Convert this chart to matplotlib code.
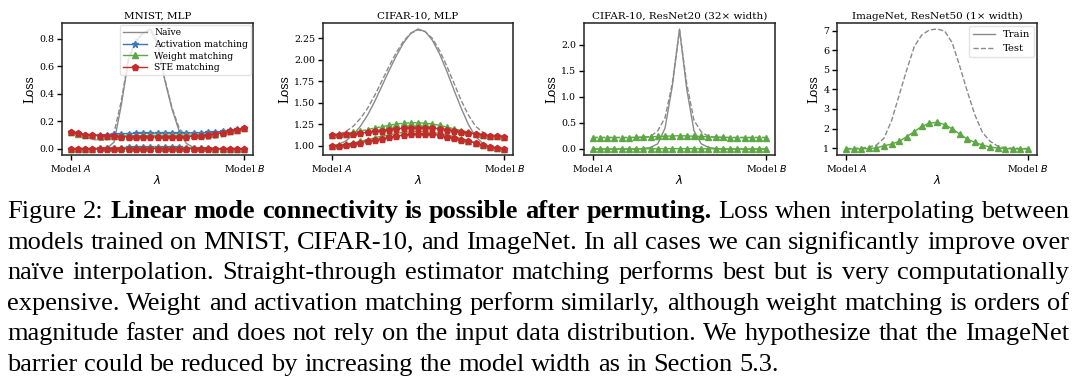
import numpy as np
import matplotlib
matplotlib.use('Agg')
import matplotlib.pyplot as plt

# interpolation coefficient lambda, 25 points between model A and model B
lam = np.linspace(0, 1, 25)

# MNIST, MLP
mnist_naive_train = [0.0, 0.0, 0.0, 0.0, 0.0, 0.005, 0.05, 0.32, 0.65, 0.78, 0.84, 0.87, 0.78,
                     0.50, 0.29, 0.13, 0.04, 0.01, 0.005, 0.0, 0.0, 0.0, 0.0, 0.0, 0.0]
mnist_naive_test = [0.12, 0.105, 0.085, 0.07, 0.062, 0.065, 0.12, 0.35, 0.66, 0.79, 0.84, 0.86, 0.76,
                    0.51, 0.30, 0.15, 0.09, 0.075, 0.07, 0.072, 0.08, 0.09, 0.105, 0.125, 0.15]
mnist_act_train = [0.0, 0.001, 0.002, 0.003, 0.004, 0.006, 0.008, 0.01, 0.012, 0.013, 0.014, 0.014, 0.014,
                   0.013, 0.012, 0.011, 0.01, 0.008, 0.006, 0.004, 0.003, 0.002, 0.001, 0.0, 0.0]
mnist_act_test = [0.12, 0.11, 0.105, 0.1, 0.1, 0.105, 0.108, 0.11, 0.112, 0.113, 0.114, 0.115, 0.115,
                  0.115, 0.115, 0.115, 0.116, 0.117, 0.118, 0.12, 0.124, 0.128, 0.135, 0.142, 0.15]
mnist_wm_train = [0.0, 0.001, 0.002, 0.003, 0.004, 0.005, 0.006, 0.007, 0.008, 0.009, 0.009, 0.01, 0.01,
                  0.01, 0.009, 0.009, 0.008, 0.007, 0.005, 0.004, 0.003, 0.002, 0.001, 0.0, 0.0]
mnist_wm_test = [0.12, 0.11, 0.104, 0.099, 0.097, 0.096, 0.095, 0.095, 0.096, 0.097, 0.098, 0.099, 0.1,
                 0.1, 0.1, 0.1, 0.101, 0.102, 0.104, 0.107, 0.112, 0.12, 0.13, 0.14, 0.15]
mnist_ste_train = [0.0, 0.0, 0.0, 0.001, 0.001, 0.001, 0.002, 0.002, 0.002, 0.003, 0.003, 0.003, 0.003,
                   0.003, 0.003, 0.002, 0.002, 0.002, 0.001, 0.001, 0.001, 0.0, 0.0, 0.0, 0.0]
mnist_ste_test = [0.12, 0.113, 0.105, 0.1, 0.097, 0.095, 0.093, 0.09, 0.088, 0.087, 0.087, 0.087, 0.087,
                  0.087, 0.087, 0.088, 0.09, 0.093, 0.097, 0.102, 0.11, 0.118, 0.128, 0.14, 0.152]

# CIFAR-10, MLP
cifar_naive_train = [1.00, 1.02, 1.06, 1.13, 1.23, 1.36, 1.52, 1.70, 1.88, 2.05, 2.20, 2.31, 2.36,
                     2.33, 2.23, 2.07, 1.87, 1.65, 1.44, 1.25, 1.11, 1.03, 0.99, 0.975, 0.97]
cifar_naive_test = [1.13, 1.14, 1.17, 1.23, 1.32, 1.44, 1.59, 1.76, 1.93, 2.09, 2.22, 2.31, 2.35,
                    2.33, 2.25, 2.11, 1.93, 1.73, 1.53, 1.36, 1.23, 1.16, 1.13, 1.12, 1.12]
cifar_wm_train = [1.0, 1.01, 1.02, 1.035, 1.055, 1.075, 1.095, 1.115, 1.13, 1.145, 1.16, 1.165, 1.17,
                  1.165, 1.16, 1.145, 1.13, 1.11, 1.085, 1.06, 1.035, 1.01, 0.99, 0.975, 0.965]
cifar_wm_test = [1.13, 1.135, 1.145, 1.16, 1.175, 1.19, 1.21, 1.225, 1.24, 1.255, 1.265, 1.27, 1.27,
                 1.265, 1.255, 1.24, 1.22, 1.2, 1.18, 1.16, 1.14, 1.13, 1.12, 1.115, 1.11]
cifar_ste_train = [1.0, 1.005, 1.015, 1.025, 1.04, 1.055, 1.07, 1.085, 1.1, 1.115, 1.125, 1.135, 1.14,
                   1.14, 1.135, 1.125, 1.11, 1.095, 1.075, 1.055, 1.035, 1.01, 0.99, 0.975, 0.965]
cifar_ste_test = [1.13, 1.13, 1.135, 1.14, 1.15, 1.16, 1.17, 1.18, 1.19, 1.2, 1.205, 1.21, 1.21,
                  1.21, 1.205, 1.2, 1.19, 1.18, 1.165, 1.15, 1.14, 1.13, 1.12, 1.115, 1.11]

# CIFAR-10, ResNet20 (32x width)
resnet20_naive_train = [0.0, 0.0, 0.0, 0.0, 0.0, 0.0, 0.0, 0.01, 0.03, 0.1, 0.4, 1.2, 2.3,
                        1.15, 0.35, 0.1, 0.03, 0.01, 0.0, 0.0, 0.0, 0.0, 0.0, 0.0, 0.0]
resnet20_naive_test = [0.22, 0.22, 0.22, 0.22, 0.22, 0.22, 0.22, 0.22, 0.24, 0.35, 0.6, 1.25, 2.28,
                       1.25, 0.55, 0.33, 0.24, 0.22, 0.22, 0.22, 0.22, 0.22, 0.22, 0.22, 0.22]
resnet20_wm_train = [0.0, 0.0, 0.0, 0.0, 0.0, 0.0, 0.001, 0.002, 0.003, 0.004, 0.005, 0.006, 0.006,
                     0.006, 0.005, 0.004, 0.003, 0.002, 0.001, 0.0, 0.0, 0.0, 0.0, 0.0, 0.0]
resnet20_wm_test = [0.22, 0.22, 0.22, 0.22, 0.22, 0.22, 0.225, 0.23, 0.235, 0.24, 0.245, 0.25, 0.255,
                    0.25, 0.245, 0.24, 0.235, 0.23, 0.225, 0.22, 0.22, 0.22, 0.22, 0.22, 0.22]

# ImageNet, ResNet50 (1x width)
imagenet_naive_test = [0.97, 0.98, 1.0, 1.05, 1.15, 1.5, 2.4, 3.7, 5.0, 6.2, 6.8, 7.05, 7.1,
                       7.0, 6.4, 5.2, 3.9, 2.7, 1.8, 1.35, 1.1, 1.02, 0.99, 0.98, 0.97]
imagenet_wm_test = [0.95, 0.95, 0.95, 0.98, 1.0, 1.12, 1.2, 1.34, 1.58, 1.84, 2.11, 2.27, 2.32,
                    2.2, 1.98, 1.72, 1.46, 1.29, 1.15, 1.05, 1.0, 0.97, 0.95, 0.95, 0.95]

titles = ['MNIST, MLP', 'CIFAR-10, MLP', 'CIFAR-10, ResNet20 (32\u00d7 width)',
          'ImageNet, ResNet50 (1\u00d7 width)']
xticklabels = ['Model $A$', 'Model $B$']

naive_color = '#8a8a8a'
act_color = '#3d74c0'
wm_color = '#5ca843'
ste_color = '#c42b2b'

plt.rcParams['font.family'] = 'DejaVu Serif'
plt.rcParams['mathtext.fontset'] = 'dejavusans'

fig = plt.figure(figsize=(10.8, 3.85), dpi=100)
W, H = 1080.0, 385.0
boxes = [(62, 253), (323, 513), (584, 775), (837, 1037)]
axes = []
for (x0, x1) in boxes:
    ax = fig.add_axes([x0 / W, 1 - 155 / H, (x1 - x0) / W, 132 / H])
    axes.append(ax)


def naive(ax, train, test):
    if train is not None:
        ax.plot(lam, train, color=naive_color, lw=1.0, ls='-')
    ax.plot(lam, test, color=naive_color, lw=1.0, ls='--')


def method(ax, train, test, color, marker, ms=4.5):
    ax.plot(lam, train, color=color, marker=marker, ls='-', lw=1.0, markersize=ms)
    ax.plot(lam, test, color=color, marker=marker, ls='--', lw=1.0, markersize=ms)


# panel 1
ax = axes[0]
naive(ax, mnist_naive_train, mnist_naive_test)
method(ax, mnist_act_train, mnist_act_test, act_color, '*', 4.5)
method(ax, mnist_wm_train, mnist_wm_test, wm_color, '^', 4.0)
method(ax, mnist_ste_train, mnist_ste_test, ste_color, 'p', 4.5)
ax.set_yticks([0.0, 0.2, 0.4, 0.6, 0.8])
h = [plt.Line2D([], [], color=naive_color, lw=1.0),
     plt.Line2D([], [], color=act_color, lw=1.0, marker='*', ms=4.5),
     plt.Line2D([], [], color=wm_color, lw=1.0, marker='^', ms=4.0),
     plt.Line2D([], [], color=ste_color, lw=1.0, marker='p', ms=4.5)]
ax.legend(h, ['Na\u00efve', 'Activation matching', 'Weight matching', 'STE matching'],
          loc='upper right', fontsize=6.6, frameon=True, framealpha=0.8, edgecolor='#dddddd',
          borderaxespad=0.25, handlelength=2.6, labelspacing=0.3, borderpad=0.3)

# panel 2
ax = axes[1]
naive(ax, cifar_naive_train, cifar_naive_test)
method(ax, cifar_wm_train, cifar_wm_test, wm_color, '^', 4.0)
method(ax, cifar_ste_train, cifar_ste_test, ste_color, 'p', 4.5)
ax.set_yticks([1.0, 1.25, 1.5, 1.75, 2.0, 2.25])
ax.set_yticklabels(['1.00', '1.25', '1.50', '1.75', '2.00', '2.25'])

# panel 3
ax = axes[2]
naive(ax, resnet20_naive_train, resnet20_naive_test)
method(ax, resnet20_wm_train, resnet20_wm_test, wm_color, '^', 4.3)
ax.set_yticks([0.0, 0.5, 1.0, 1.5, 2.0])

# panel 4
ax = axes[3]
naive(ax, None, imagenet_naive_test)
ax.plot(lam, imagenet_wm_test, color=wm_color, marker='^', ls='-', lw=1.0, markersize=4.8)
ax.set_yticks([1, 2, 3, 4, 5, 6, 7])
h = [plt.Line2D([], [], color=naive_color, lw=1.0),
     plt.Line2D([], [], color=naive_color, lw=1.0, ls='--')]
ax.legend(h, ['Train', 'Test'], loc='upper right', fontsize=7.2, frameon=True,
          edgecolor='#dddddd', borderaxespad=0.3, handlelength=2.2, borderpad=0.4)

for ax, title in zip(axes, titles):
    ax.set_title(title, fontsize=7.5, pad=3)
    ax.set_xticks([0, 1])
    ax.set_xticklabels(xticklabels)
    ax.set_xlabel('$\\lambda$', fontsize=8.5, labelpad=0)
    ax.set_ylabel('Loss', fontsize=8.8, labelpad=2)
    ax.set_xlim(-0.05, 1.05)
    ax.tick_params(labelsize=6.8, length=3.5, width=1.0, direction='out', pad=2)
    for s in ax.spines.values():
        s.set_linewidth(1.1)
        s.set_color('#222222')

# caption, justified word by word (baseline aligned)
cap_lines = [
    "Figure 2: *Linear *mode *connectivity *is *possible *after *permuting. Loss when interpolating between",
    "models trained on MNIST, CIFAR-10, and ImageNet. In all cases we can significantly improve over",
    "na\u00efve interpolation. Straight-through estimator matching performs best but is very computationally",
    "expensive. Weight and activation matching perform similarly, although weight matching is orders of",
    "magnitude faster and does not rely on the input data distribution. We hypothesize that the ImageNet",
    "barrier could be reduced by increasing the model width as in Section 5.3.",
]
cap_left, cap_right = 7.0, 1069.0
cap_y0, cap_dy = 218.0, 30.6
cap_size = 19.0
renderer = fig.canvas.get_renderer()
for i, line in enumerate(cap_lines):
    y = 1 - (cap_y0 + i * cap_dy) / H
    words = line.split(' ')
    texts = []
    widths = []
    for w in words:
        bold = w.startswith('*')
        w = w.lstrip('*')
        t = fig.text(0, y, w, fontsize=cap_size, family='Liberation Serif',
                     fontweight='bold' if bold else 'normal', va='baseline', ha='left')
        texts.append(t)
        widths.append(t.get_window_extent(renderer).width)
    if i < len(cap_lines) - 1:
        gap = (cap_right - cap_left - sum(widths)) / (len(words) - 1)
    else:
        gap = cap_size * 0.25 * 100 / 72
    x = cap_left
    for t, wd in zip(texts, widths):
        t.set_x(x / W)
        x += wd + gap

fig.savefig('out.png', dpi=100)
